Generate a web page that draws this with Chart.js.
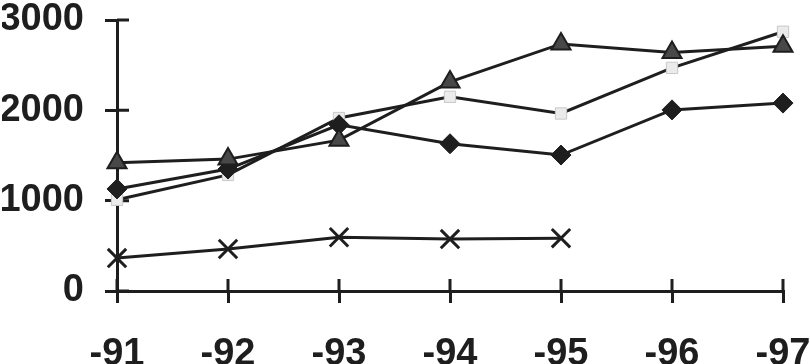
<!DOCTYPE html>
<html>
<head>
<meta charset="utf-8">
<script src="https://cdn.jsdelivr.net/npm/chart.js@4"></script>
<style>
  html, body { margin: 0; padding: 0; background: #fff; }
  canvas { display: block; }
</style>
</head>
<body>
<canvas id="chart" width="810" height="364"></canvas>
<script>
const years = ['-91', '-92', '-93', '-94', '-95', '-96', '-97'];
const triangleSeries = [1420, 1460, 1670, 2315, 2735, 2640, 2710];
const diamondSeries = [1130, 1350, 1840, 1630, 1505, 2005, 2080];
const squareSeries = [1010, 1285, 1915, 2150, 1965, 2470, 2870];
const crossSeries = [365, 465, 595, 575, 585, null, null];
const yTicks = [0, 1000, 2000, 3000];

const ink = '#1e1e1e';
const tickFont = { family: 'Liberation Sans', size: 38, weight: 'bold' };

// ticks in the picture cross the axis, chart.js only draws the outer half
const innerTicks = {
  id: 'innerTicks',
  beforeDatasetsDraw(chart) {
    const c = chart.ctx;
    const x = chart.scales.x, y = chart.scales.y;
    c.save();
    c.strokeStyle = ink;
    c.lineWidth = 3;
    c.beginPath();
    x.ticks.forEach((t, i) => {
      const px = x.getPixelForTick(i);
      c.moveTo(px, x.top);
      c.lineTo(px, x.top - 12);
    });
    y.ticks.forEach((t, i) => {
      const py = y.getPixelForTick(i);
      c.moveTo(y.right, py);
      c.lineTo(y.right + 12, py);
    });
    c.stroke();
    c.restore();
  }
};

new Chart(document.getElementById('chart'), {
  type: 'line',
  data: {
    labels: years,
    datasets: [{
      data: triangleSeries,
      borderColor: ink,
      borderWidth: 3,
      pointStyle: 'triangle',
      pointRadius: 11,
      pointBackgroundColor: '#484848',
      pointBorderColor: ink,
      pointBorderWidth: 2
    }, {
      data: diamondSeries,
      borderColor: ink,
      borderWidth: 3,
      pointStyle: 'rectRot',
      pointRadius: 10,
      pointBackgroundColor: ink,
      pointBorderColor: ink,
      pointBorderWidth: 1
    }, {
      data: squareSeries,
      borderColor: ink,
      borderWidth: 3,
      pointStyle: 'rect',
      pointRadius: 8,
      pointBackgroundColor: '#ebebeb',
      pointBorderColor: '#c8c8c8',
      pointBorderWidth: 1
    }, {
      data: crossSeries,
      borderColor: ink,
      borderWidth: 3,
      pointStyle: 'crossRot',
      pointRadius: 13,
      pointBorderColor: ink,
      pointBorderWidth: 3
    }]
  },
  options: {
    responsive: false,
    animation: false,
    devicePixelRatio: 1,
    layout: { padding: { left: 2, right: 0, top: 0, bottom: 0 } },
    plugins: { legend: { display: false }, tooltip: { enabled: false } },
    elements: { line: { tension: 0 } },
    scales: {
      x: {
        afterFit: s => { s.height = 73; s.paddingLeft = 0; s.paddingRight = 27; },
        grid: { drawOnChartArea: false, drawTicks: true, tickLength: 12, color: ink, lineWidth: 3 },
        border: { color: ink, width: 3 },
        ticks: { font: tickFont, color: ink, padding: 29, maxRotation: 0, autoSkip: false }
      },
      y: {
        min: 0,
        max: 3000,
        afterBuildTicks: axis => { axis.ticks = yTicks.map(v => ({ value: v })); },
        afterFit: s => { s.width = 115; s.paddingTop = 20; s.paddingBottom = 0; },
        grid: { drawOnChartArea: false, drawTicks: true, tickLength: 12, color: ink, lineWidth: 3 },
        border: { color: ink, width: 3 },
        ticks: { font: tickFont, color: ink, padding: 21, callback: v => String(v) }
      }
    }
  },
  plugins: [innerTicks]
});
</script>
</body>
</html>
